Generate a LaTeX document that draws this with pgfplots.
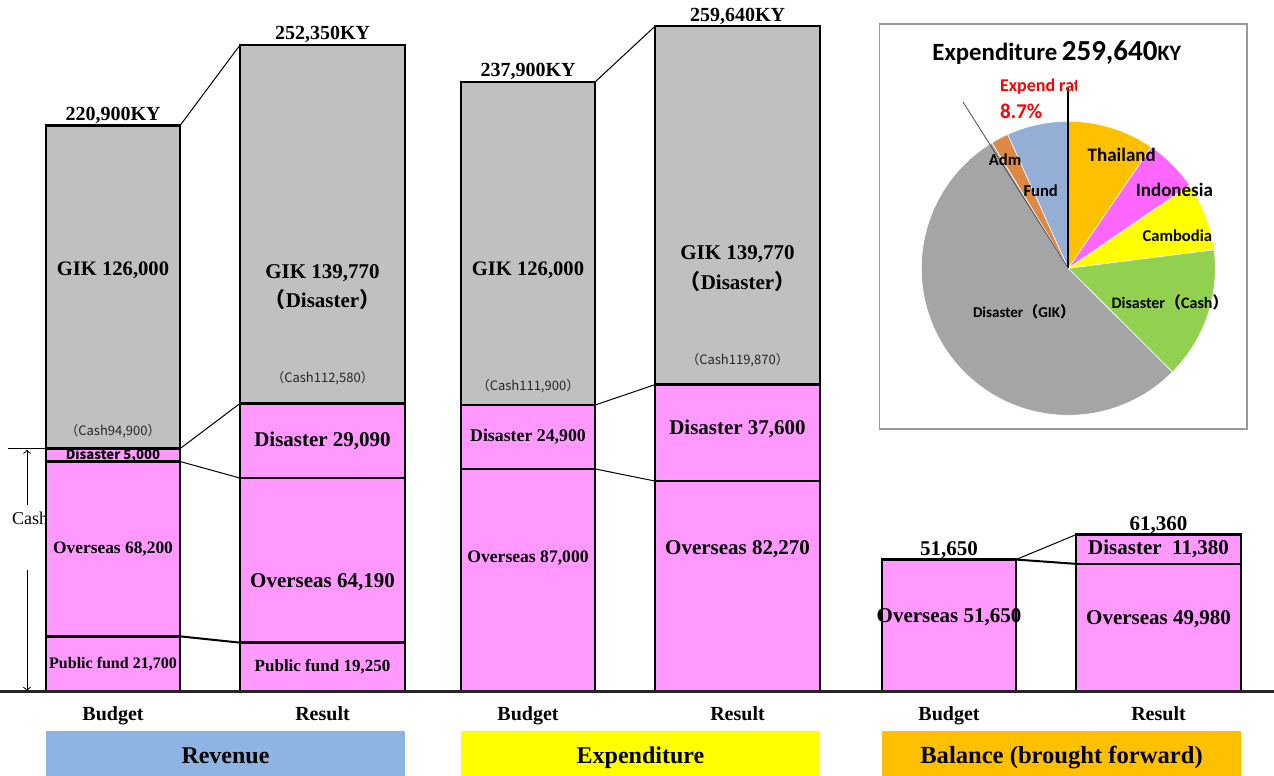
\documentclass[border=0pt]{standalone}
\usepackage{pgfplots}
\pgfplotsset{compat=1.18}
\usepackage{fontspec}
\setmainfont{Liberation Serif}
\newfontfamily\calfont{Carlito}
\newfontfamily\cjk{Noto Sans CJK JP}
\definecolor{gik}{HTML}{C0C0C0}
\definecolor{pk}{HTML}{FF99FF}
\definecolor{revC}{HTML}{8DB4E2}
\definecolor{expC}{HTML}{FFFF00}
\definecolor{balC}{HTML}{FFC000}
\definecolor{pThai}{HTML}{FFC000}
\definecolor{pIndo}{HTML}{FF66FF}
\definecolor{pCamb}{HTML}{FFFF00}
\definecolor{pCash}{HTML}{92D050}
\definecolor{pGIK}{HTML}{A5A5A5}
\definecolor{pAdm}{HTML}{DD8844}
\definecolor{pFund}{HTML}{95AED6}
\pgfplotsset{base/.style={hide axis, scale only axis, width=637pt, height=388pt,
  xmin=0, xmax=1274, ymin=-32760, ymax=269880, clip=false,
  at={(0,0)}, anchor=south west}}
\tikzset{bar/.style={draw=black, line width=1.2pt},
  fs/.style={font=\bfseries\fontsize{#1}{#1}\selectfont, inner sep=1pt},
  cs/.style={font=\cjk\fontsize{6.5}{7}\selectfont, text=black!85, inner sep=1pt}}
\begin{document}
\begin{tikzpicture}
\useasboundingbox (0,0) rectangle (637pt,388pt);
\begin{scope}[shift={(0,388pt)},x=0.5pt,y=-0.5pt]
  \node[anchor=west,font=\fontsize{9}{10}\selectfont] at (5,518) {Cash};
\end{scope}
% ---------------- Budget bars ----------------
\begin{axis}[base, ybar stacked, bar width=134]
\addplot[bar, fill=pk]  coordinates {(113,21700) (528,0) (949,0)};
\addplot[bar, fill=pk]  coordinates {(113,68200) (528,87000) (949,51650)};
\addplot[bar, fill=pk]  coordinates {(113,5000) (528,24900) (949,0)};
\addplot[bar, fill=gik] coordinates {(113,126000) (528,126000) (949,0)};
\end{axis}
% ---------------- Result bars ----------------
\begin{axis}[base, ybar stacked, bar width=165]
\addplot[bar, fill=pk]  coordinates {(322.5,19250) (737.5,0) (1158.5,0)};
\addplot[bar, fill=pk]  coordinates {(322.5,64190) (737.5,82270) (1158.5,49980)};
\addplot[bar, fill=pk]  coordinates {(322.5,29090) (737.5,37600) (1158.5,11380)};
\addplot[bar, fill=gik] coordinates {(322.5,139770) (737.5,139770) (1158.5,0)};
\end{axis}
% ---------------- connectors and labels ----------------
\begin{axis}[base]
\addplot[black, line width=0.5pt] coordinates {(180,220900) (240,252300)};
\addplot[black, line width=0.5pt] coordinates {(180,94900) (240,112530)};
\addplot[black, line width=0.5pt] coordinates {(180,89900) (240,83440)};
\addplot[black, line width=1pt] coordinates {(180,21700) (240,19250)};
\addplot[black, line width=0.5pt] coordinates {(595,237900) (655,259640)};
\addplot[black, line width=0.5pt] coordinates {(595,111900) (655,119870)};
\addplot[black, line width=0.5pt] coordinates {(595,87000) (655,82270)};
\addplot[black, line width=0.5pt] coordinates {(1016,51650) (1076,61360)};
\addplot[black, line width=1pt] coordinates {(1016,51650) (1076,49980)};
% Revenue budget labels
\node[fs=10,anchor=base] at (113,222900) {220,900KY};
\node[fs=10.3] at (113,164600) {GIK 126,000};
\node[cs] at (113,101800) {（Cash94,900）};
\node[font=\cjk\bfseries\fontsize{6.6}{7}\selectfont, inner sep=0pt] at (113,92400) {Disaster 5,000};
\node[fs=8.7] at (113,55800) {Overseas 68,200};
\node[fs=8] at (113,10850) {Public fund 21,700};
% Revenue result labels
\node[fs=10,anchor=base] at (322.5,254300) {252,350KY};
\node[fs=10.5] at (322.5,163400) {GIK 139,770};
\node[fs=10.5] at (322.5,152900) {{\cjk （}Disaster{\cjk ）}};
\node[cs] at (322.5,122500) {（Cash112,580）};
\node[fs=10.5] at (322.5,97985) {Disaster 29,090};
\node[fs=10.5] at (322.5,42750) {Overseas 64,190};
\node[fs=8.5] at (322.5,9625) {Public fund 19,250};
% Expenditure budget labels
\node[fs=10,anchor=base] at (528,239900) {237,900KY};
\node[fs=10.3] at (528,164300) {GIK 126,000};
\node[cs] at (528,119200) {（Cash111,900）};
\node[fs=8.9] at (528,99450) {Disaster 24,900};
\node[fs=8.8] at (528,52200) {Overseas 87,000};
% Expenditure result labels
\node[fs=10,anchor=base] at (737.5,261600) {259,640KY};
\node[fs=10.5] at (737.5,170750) {GIK 139,770};
\node[fs=10.5] at (737.5,160260) {{\cjk （}Disaster{\cjk ）}};
\node[cs] at (737.5,129470) {（Cash119,870）};
\node[fs=10.5] at (737.5,102700) {Disaster 37,600};
\node[fs=10.5] at (737.5,55600) {Overseas 82,270};
% Balance labels
\node[fs=10.5,anchor=base] at (949,53300) {51,650};
\node[fs=10.5] at (949,29300) {Overseas 51,650};
\node[fs=10.5,anchor=base] at (1158.5,63000) {61,360};
\node[fs=10.5] at (1158.5,55670) {Disaster\ \ 11,380};
\node[fs=10.5] at (1158.5,28340) {Overseas 49,980};
\end{axis}
% ---------------- pixel scope: frame, pie, bottom ----------------
\begin{scope}[shift={(0,388pt)},x=0.5pt,y=-0.5pt]
  \draw[black!85, line width=1.5pt] (0,692) -- (1274,692);
  \draw[line width=0.5pt] (8,448.7) -- (46,448.7);
  \draw[line width=0.5pt,->] (27,505) -- (27,449.7);
  \draw[line width=0.5pt,->] (27,570) -- (27,691);
  \foreach \x/\t in {113/Budget,322.5/Result,528/Budget,737.5/Result,949/Budget,1158.5/Result}
    \node[fs=10,anchor=base] at (\x,721) {\t};
  \fill[revC] (46,731) rectangle (405,776);
  \fill[expC] (461,731) rectangle (820,776);
  \fill[balC] (882,731) rectangle (1241,776);
  \node[fs=12,anchor=base] at (225.5,764) {Revenue};
  \node[fs=12,anchor=base] at (640.5,764) {Expenditure};
  \node[fs=12.3,anchor=base] at (1061.5,764) {Balance (brought forward)};
  \draw[gray!80, line width=0.8pt, fill=white] (879.3,24) rectangle (1246.7,429.3);
  \def\tot{259.64}
  \gdef\cum{0}
  \foreach \v/\c in {24.80/pThai,15.30/pIndo,19.60/pCamb,37.60/pCash,139.77/pGIK,5.00/pAdm,17.57/pFund}{
    \pgfmathsetmacro\aa{-90+(\cum/\tot)*360}
    \pgfmathsetmacro\bb{-90+((\cum+\v)/\tot)*360}
    \fill[\c, draw=white, line width=0.3pt] (1068.3,268.3) -- ++(\aa:147) arc[start angle=\aa, end angle=\bb, radius=147] -- cycle;
    \pgfmathsetmacro\newcum{\cum+\v}
    \xdef\cum{\newcum}
  }
  \draw[black, line width=1pt] (1068.3,268.3) -- (1068.3,88);
  \draw[black!70, line width=0.4pt] (1068.3,268.3) -- (963,102);
  \node[font=\calfont\bfseries] at (1056.7,53) {{\fontsize{12.4}{14}\selectfont Expenditure} {\fontsize{14.5}{16}\selectfont 259,640}{\fontsize{11}{13}\selectfont KY}};
  \begin{scope}
    \clip (980,70) rectangle (1076,100);
    \node[anchor=west, text=red, font=\calfont\bfseries\fontsize{9}{10}\selectfont] at (993,87) {Expend rate};
  \end{scope}
  \node[anchor=west, text=red, font=\calfont\bfseries\fontsize{10.5}{12}\selectfont] at (993,111) {8.7\%};
  \node[font=\calfont\bfseries\fontsize{9.5}{11}\selectfont] at (1121.7,155) {Thailand};
  \node[font=\calfont\bfseries\fontsize{9.5}{11}\selectfont] at (1174.3,190) {Indonesia};
  \node[font=\calfont\bfseries\fontsize{8.3}{10}\selectfont] at (1177.3,236) {Cambodia};
  \node[font=\calfont\bfseries\fontsize{8}{10}\selectfont] at (1170,302.7) {Disaster{\cjk （}Cash{\cjk ）}};
  \node[font=\calfont\bfseries\fontsize{7.5}{9}\selectfont] at (1024,311.7) {Disaster{\cjk （}GIK{\cjk ）}};
  \node[font=\calfont\bfseries\fontsize{8.3}{10}\selectfont] at (1005,160) {Adm};
  \node[font=\calfont\bfseries\fontsize{8.3}{10}\selectfont] at (1040.7,190.7) {Fund};
\end{scope}
\end{tikzpicture}
\end{document}
